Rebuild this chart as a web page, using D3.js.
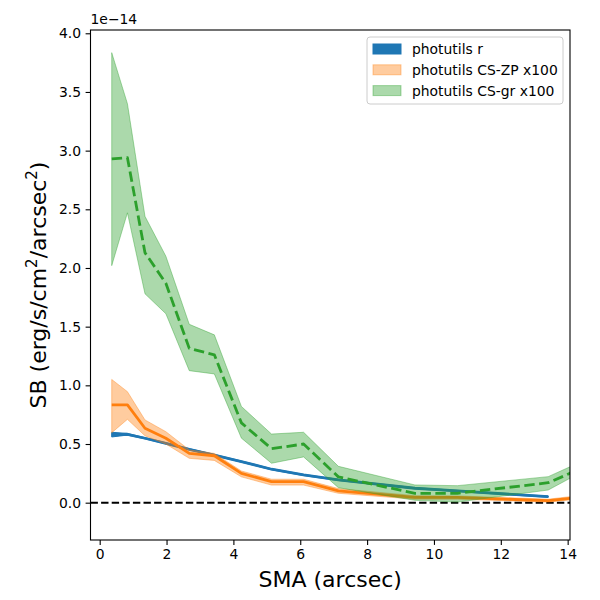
<!DOCTYPE html>
<html><head><meta charset="utf-8">
<script src="https://cdn.jsdelivr.net/npm/d3@7"></script>
<style>body{margin:0;background:#fff}svg{display:block}text{font-family:"DejaVu Sans",sans-serif}</style>
</head><body>
<svg id="c" width="600" height="600"></svg>
<script>
// SMA (arcsec)
const sma = [0.36, 0.83, 1.355, 1.98, 2.68, 3.43, 4.24, 5.14, 6.1, 7.14, 9.43, 10.7, 13.42, 14.8];
// photutils r (units of 1e-14)
const rMid   = [0.577, 0.583, 0.549, 0.506, 0.455, 0.406, 0.35, 0.285, 0.236, 0.194, 0.123, 0.10, 0.051];
const rLow   = [0.56, 0.576, 0.544, 0.501, 0.45, 0.401, 0.345, 0.28, 0.231, 0.189, 0.118, 0.095, 0.046];
const rHigh  = [0.60, 0.59, 0.554, 0.511, 0.46, 0.411, 0.355, 0.29, 0.241, 0.199, 0.128, 0.105, 0.056];
// photutils CS-ZP x100
const zpMid  = [0.833, 0.833, 0.634, 0.549, 0.42, 0.40, 0.25, 0.18, 0.18, 0.10, 0.046, 0.045, 0.017, 0.06];
const zpLow  = [0.596, 0.71, 0.57, 0.50, 0.378, 0.36, 0.22, 0.15, 0.15, 0.08, 0.03, 0.03, 0.005, 0.045];
const zpHigh = [1.05, 0.946, 0.705, 0.605, 0.45, 0.42, 0.27, 0.20, 0.20, 0.12, 0.06, 0.058, 0.03, 0.075];
// photutils CS-gr x100
const grMid  = [2.93, 2.94, 2.13, 1.87, 1.315, 1.26, 0.68, 0.46, 0.50, 0.22, 0.08, 0.08, 0.17, 0.34];
const grLow  = [2.02, 2.47, 1.78, 1.61, 1.125, 1.097, 0.55, 0.336, 0.39, 0.128, 0.02, 0.005, 0.108, 0.32];
const grHigh = [3.835, 3.40, 2.44, 2.10, 1.52, 1.43, 0.82, 0.585, 0.60, 0.31, 0.151, 0.145, 0.222, 0.40];

const xTicks = [0, 2, 4, 6, 8, 10, 12, 14];
const yTicks = [0, 0.5, 1.0, 1.5, 2.0, 2.5, 3.0, 3.5, 4.0];
const legendLabels = ["photutils r", "photutils CS-ZP x100", "photutils CS-gr x100"];

const L = 90.5, R = 570, T = 30, B = 540;
const x = d3.scaleLinear().domain([-0.275, 14.07]).range([L, R]);
const y = d3.scaleLinear().domain([-0.318, 4.028]).range([B, T]);
const svg = d3.select("#c");

svg.append("defs").append("clipPath").attr("id", "clip")
  .append("rect").attr("x", L).attr("y", T).attr("width", R - L).attr("height", B - T);
const g = svg.append("g").attr("clip-path", "url(#clip)");

const series = [
  {mid: rMid, lo: rLow, hi: rHigh, color: "#1f77b4", alpha: 1, dash: null},
  {mid: zpMid, lo: zpLow, hi: zpHigh, color: "#ff7f0e", alpha: 0.4, dash: null},
  {mid: grMid, lo: grLow, hi: grHigh, color: "#2ca02c", alpha: 0.4, dash: "10.4,4.5"}
];

// zero line
g.append("line").attr("x1", L).attr("x2", R).attr("y1", y(0)).attr("y2", y(0))
  .attr("stroke", "#000").attr("stroke-width", 2).attr("stroke-dasharray", "7.4,3.2");

series.forEach(s => {
  const pts = s.mid.map((v, i) => ({x: sma[i], m: v, lo: s.lo[i], hi: s.hi[i]}));
  const area = d3.area().x(d => x(d.x)).y0(d => y(d.lo)).y1(d => y(d.hi));
  g.append("path").attr("d", area(pts)).attr("fill", s.color).attr("fill-opacity", s.alpha)
    .attr("stroke", s.color).attr("stroke-opacity", s.alpha).attr("stroke-width", 1);
  const line = d3.line().x(d => x(d.x)).y(d => y(d.m));
  const p = g.append("path").attr("d", line(pts)).attr("fill", "none").attr("stroke", s.color)
    .attr("stroke-width", 2.8).attr("stroke-linejoin", "round");
  if (s.dash) p.attr("stroke-dasharray", s.dash);
});

// frame
svg.append("rect").attr("x", L).attr("y", T).attr("width", R - L).attr("height", B - T)
  .attr("fill", "none").attr("stroke", "#000").attr("stroke-width", 1.1);

// axes
const xa = svg.append("g").attr("transform", `translate(0,${B})`)
  .call(d3.axisBottom(x).tickValues(xTicks).tickFormat(d3.format("d")).tickSizeOuter(0).tickSize(4.9).tickPadding(4.5));
const ya = svg.append("g").attr("transform", `translate(${L},0)`)
  .call(d3.axisLeft(y).tickValues(yTicks).tickFormat(d3.format(".1f")).tickSizeOuter(0).tickSize(4.9).tickPadding(4.5));
[xa, ya].forEach(a => {
  a.select(".domain").remove();
  a.selectAll("line").attr("stroke", "#000").attr("stroke-width", 1.1);
  a.selectAll("text").attr("font-size", 13.9).attr("fill", "#000").style("font-family", "DejaVu Sans");
});

// offset text
svg.append("text").attr("x", L).attr("y", 24).attr("font-size", 13.9).text("1e\u221214");

// axis labels
svg.append("text").attr("x", (L + R) / 2).attr("y", 587).attr("text-anchor", "middle")
  .attr("font-size", 22).text("SMA (arcsec)");
const yl = svg.append("text").attr("transform", `translate(46,${(T + B) / 2}) rotate(-90)`)
  .attr("text-anchor", "middle").attr("font-size", 22);
yl.append("tspan").text("SB (erg/s/cm");
yl.append("tspan").attr("dy", -9).attr("font-size", 15).text("2");
yl.append("tspan").attr("dy", 9).text("/arcsec");
yl.append("tspan").attr("dy", -9).attr("font-size", 15).text("2");
yl.append("tspan").attr("dy", 9).text(")");

// legend
const lg = svg.append("g");
lg.append("rect").attr("x", 367).attr("y", 37).attr("width", 196).attr("height", 67).attr("rx", 3)
  .attr("fill", "#fff").attr("fill-opacity", 0.8).attr("stroke", "#cccccc").attr("stroke-width", 1);
legendLabels.forEach((lab, i) => {
  const cy = 49 + i * 20.8;
  lg.append("rect").attr("x", 373).attr("y", cy - 5).attr("width", 28).attr("height", 10)
    .attr("fill", series[i].color).attr("fill-opacity", series[i].alpha)
    .attr("stroke", series[i].color).attr("stroke-opacity", series[i].alpha).attr("stroke-width", 1);
  lg.append("text").attr("x", 412).attr("y", cy + 5).attr("font-size", 13.9).text(lab);
});
</script>
</body></html>
